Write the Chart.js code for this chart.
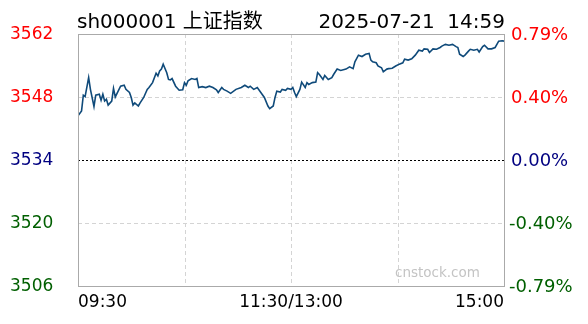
<!DOCTYPE html>
<html>
<head>
<meta charset="utf-8">
<script src="https://cdn.jsdelivr.net/npm/chart.js@4.4.1/dist/chart.umd.min.js"></script>
<style>
html,body{margin:0;padding:0;background:#fff;}
#wrap{width:588px;height:324px;position:relative;}
</style>
</head>
<body>
<div id="wrap"><canvas id="c" width="588" height="324"></canvas></div>
<script>
// ---- data ----
const titleText = "sh000001 上证指数";
const dateText = "2025-07-21  14:59";
const prevClose = 3534;
const yMin = 3506, yMax = 3562;
const priceTicks = [3562, 3548, 3534, 3520, 3506];
const pctLabels = ["0.79%", "0.40%", "0.00%", "-0.40%", "-0.79%"];
const timeTicks = [0, 120, 240];
const timeLabels = ["09:30", "11:30/13:00", "15:00"];
const minutes = [0,2,3,4,6,7,9,10,12,13,14,15,16,17,19,20,21,22,24,26,27,29,30,31,32,34,35,37,39,40,42,44,45,46,47,48,50,51,52,53,55,57,59,60,61,62,64,66,67,68,70,72,74,76,78,79,81,82,84,86,89,92,94,96,97,99,101,103,105,107,108,110,111,112,114,115,117,118,120,121,122,123,125,126,128,129,130,132,134,135,136,138,139,141,143,144,146,148,151,153,155,156,158,160,162,164,165,166,168,169,171,172,174,175,177,179,181,183,184,186,188,190,192,194,195,197,198,200,202,204,205,207,209,211,213,214,215,217,218,220,221,223,225,226,228,229,231,233,235,236,237,239,240];
const prices = [3543.8,3544.9,3548.4,3548.1,3552.3,3549.7,3545.9,3548.4,3548.6,3547.3,3548.6,3547.1,3547.5,3546.2,3547.1,3549.9,3548.0,3548.8,3550.4,3550.6,3549.7,3549.0,3547.9,3546.2,3546.7,3546.0,3546.7,3547.9,3549.7,3550.1,3551.2,3553.3,3552.7,3553.8,3554.2,3555.3,3553.4,3551.9,3551.8,3552.1,3550.4,3549.5,3549.6,3551.2,3550.6,3551.6,3552.1,3551.9,3552.1,3550.1,3550.3,3550.1,3550.4,3550.1,3549.6,3549.0,3550.1,3549.7,3549.3,3548.8,3549.7,3550.1,3550.6,3550.1,3550.4,3549.7,3550.1,3549.0,3547.9,3546.0,3545.4,3546.0,3547.9,3549.3,3549.1,3549.7,3549.5,3549.9,3549.7,3550.1,3549.0,3548.1,3549.7,3551.3,3550.1,3551.2,3550.8,3551.2,3551.3,3553.4,3553.0,3551.9,3552.8,3551.9,3552.3,3553.0,3554.2,3553.9,3554.2,3554.7,3554.3,3555.8,3557.3,3557.0,3557.5,3557.7,3556.2,3555.8,3555.6,3554.9,3554.5,3553.6,3554.2,3554.3,3554.4,3554.9,3555.3,3555.6,3556.4,3556.2,3556.5,3557.3,3558.4,3558.2,3558.7,3558.6,3557.9,3558.7,3558.6,3559.0,3559.3,3559.7,3559.5,3559.7,3559.2,3559.0,3557.5,3557.0,3557.3,3558.2,3558.6,3558.4,3558.6,3558.0,3559.2,3559.5,3558.7,3558.7,3559.0,3559.7,3560.4,3560.5,3560.4];

const points = minutes.map((m, i) => ({x: m, y: prices[i]}));
const RED = "#ff0000", NAVY = "#000080", GREEN = "#005f00";
function colorFor(v){ return v > prevClose ? RED : (v < prevClose ? GREEN : NAVY); }

const decor = {
  id: 'decor',
  beforeDatasetsDraw(chart){
    const {ctx, chartArea: a, scales: {x, y}} = chart;
    ctx.save();
    ctx.strokeStyle = '#d4d4d4';
    ctx.lineWidth = 1;
    ctx.setLineDash([4, 3]);
    priceTicks.forEach(v => {
      if (v === yMin || v === yMax || v === prevClose) return;
      const py = Math.round(y.getPixelForValue(v)) + 0.5;
      ctx.beginPath(); ctx.moveTo(a.left, py); ctx.lineTo(a.right, py); ctx.stroke();
    });
    [60, 120, 180].forEach(m => {
      const px = Math.round(x.getPixelForValue(m)) + 0.5;
      ctx.beginPath(); ctx.moveTo(px, a.top); ctx.lineTo(px, a.bottom); ctx.stroke();
    });
    ctx.strokeStyle = '#000';
    ctx.setLineDash([2, 2]);
    const zy = Math.round(y.getPixelForValue(prevClose)) + 0.5;
    ctx.beginPath(); ctx.moveTo(a.left, zy); ctx.lineTo(a.right, zy); ctx.stroke();
    ctx.setLineDash([]);
    ctx.fillStyle = '#c4c4c4';
    ctx.font = '13.5px "DejaVu Sans"';
    ctx.textAlign = 'left'; ctx.textBaseline = 'alphabetic';
    ctx.fillText('cnstock.com', 395, 277);
    ctx.restore();
  },
  afterDraw(chart){
    const {ctx, chartArea: a, scales: {x, y}} = chart;
    ctx.save();
    ctx.strokeStyle = '#aaaaaa';
    ctx.lineWidth = 1;
    ctx.strokeRect(Math.round(a.left) + 0.5, Math.round(a.top) + 0.5, Math.round(a.right - a.left), Math.round(a.bottom - a.top));
    ctx.fillStyle = '#000';
    ctx.font = '20px "DejaVu Sans", "Noto Sans CJK SC"';
    ctx.textBaseline = 'alphabetic';
    ctx.textAlign = 'left';
    ctx.fillText(titleText, 77, 28);
    ctx.textAlign = 'right';
    ctx.fillText(dateText, 505, 28);
    ctx.textBaseline = 'middle';
    priceTicks.forEach((v, i) => {
      const py = y.getPixelForValue(v);
      ctx.fillStyle = colorFor(v);
      ctx.textAlign = 'left';
      ctx.font = '17px "DejaVu Sans"';
      ctx.fillText(String(v), 10, py + 1);
      ctx.font = '18px "DejaVu Sans"';
      ctx.fillText(pctLabels[i], pctLabels[i].startsWith('-') ? 509 : 511, py + 1);
    });
    ctx.font = '17px "DejaVu Sans"';
    ctx.fillStyle = '#000';
    timeTicks.forEach((m, i) => {
      const px = x.getPixelForValue(m);
      ctx.textAlign = i === 0 ? 'left' : (i === timeTicks.length - 1 ? 'right' : 'center');
      ctx.fillText(timeLabels[i], px, 303);
    });
    ctx.restore();
  }
};

new Chart(document.getElementById('c'), {
  type: 'line',
  data: {
    datasets: [{
      data: points,
      borderColor: '#0f4a7a',
      borderWidth: 1.6,
      pointRadius: 0,
      tension: 0,
      fill: false
    }]
  },
  options: {
    responsive: false,
    animation: false,
    layout: {padding: {left: 78, right: 84, top: 34, bottom: 38}},
    plugins: {legend: {display: false}, tooltip: {enabled: false}},
    scales: {
      x: {type: 'linear', min: 0, max: 240, display: false},
      y: {type: 'linear', min: yMin, max: yMax, display: false}
    }
  },
  plugins: [decor]
});
</script>
</body>
</html>
